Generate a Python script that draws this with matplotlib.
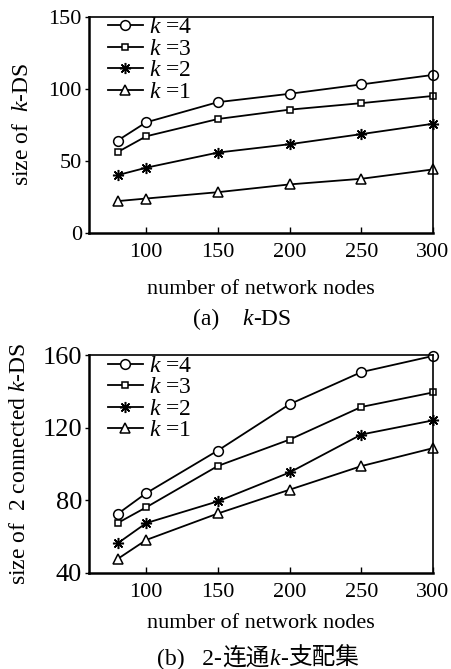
import matplotlib
matplotlib.use("Agg")
import matplotlib.pyplot as plt

plt.rcParams['font.family'] = ['Liberation Serif', 'Noto Sans CJK SC']
plt.rcParams['mathtext.fontset'] = 'custom'
plt.rcParams['mathtext.it'] = 'Liberation Serif:italic'
plt.rcParams['mathtext.rm'] = 'Liberation Serif'

nodes = [80, 100, 150, 200, 250, 300]
labels = ['$k$ =4', '$k$ =3', '$k$ =2', '$k$ =1']
markers = ['o', 's', (8, 2, 0), '^']
marker_sizes = [7, 5, 8, 7.5]

# (a) k-DS
kds = [
    [64, 76.7, 90.7, 96.5, 103, 109.6],
    [56, 67, 79, 85.5, 90, 95],
    [40, 45.2, 55.7, 61.5, 68.5, 75.7],
    [22, 23.8, 28.2, 33.6, 37.5, 44],
]
# (b) 2 connected k-DS
ckds = [
    [72.5, 84, 107.5, 133, 150.7, 159.6],
    [67.5, 76.2, 99, 113.5, 131.5, 139.5],
    [56.3, 67.5, 79.5, 95.4, 116.3, 124.1],
    [47.7, 58.2, 72.8, 85.9, 98.9, 108.8],
]

fig = plt.figure(figsize=(4.51, 6.69), dpi=100)
ax1 = fig.add_axes([0.197, 0.652, 0.763, 0.323])
ax2 = fig.add_axes([0.197, 0.1435, 0.763, 0.3255])


def draw(ax, data, ylim, yticks, ylabel, ysize, xpad, ypad):
    for vals, lab, m, ms in zip(data, labels, markers, marker_sizes):
        ax.plot(nodes, vals, '-', color='black', lw=1.3, marker=m, ms=ms,
                mfc='white', mec='black', mew=1.1, label=lab, clip_on=False)
    ax.set_xlim(60, 300)
    ax.set_ylim(*ylim)
    ax.set_xticks([100, 150, 200, 250, 300])
    ax.set_yticks(yticks)
    ax.tick_params(axis='x', direction='in', length=4, width=1, labelsize=16, pad=7)
    ax.tick_params(axis='y', direction='out', length=3, width=1, labelsize=ysize, pad=2)
    for s in ['left', 'bottom']:
        ax.spines[s].set_linewidth(1.8)
    for s in ['top', 'right']:
        ax.spines[s].set_linewidth(1.2)
    ax.set_xlabel('number of network nodes', fontsize=16, labelpad=xpad)
    ax.set_ylabel(ylabel, fontsize=17, labelpad=ypad)
    ax.legend(loc='upper left', bbox_to_anchor=(0.055, 1.0), frameon=False,
              fontsize=17, handlelength=1.5, labelspacing=0.0,
              borderaxespad=0, handletextpad=0.25, borderpad=0)


draw(ax1, kds, (0, 150), [0, 50, 100, 150], 'size of  $k$-DS', 16, 13, 11)
draw(ax2, ckds, (40, 160), [40, 80, 120, 160], 'size of  2 connected $k$-DS', 19, 9, 9)


def caption(cx, cy, pieces):
    # lay the pieces side by side, centered on cx (pixels), baseline cy
    renderer = fig.canvas.get_renderer()
    texts = []
    for s, kw in pieces:
        opts = {'fontsize': 17}
        opts.update(kw)
        texts.append(fig.text(0, cy / 669, s, ha='left', va='baseline', **opts))
    widths = [t.get_window_extent(renderer).width for t in texts]
    x = cx - sum(widths) / 2
    for t, w in zip(texts, widths):
        t.set_x(x / 451)
        x += w


caption(242, 669 - 325, [('(a)    ', {}), ('k', {'style': 'italic'}), ('-DS', {})])
caption(258, 669 - 665, [('(b)   2-', {}),
                         ('连通', {'family': 'Noto Sans CJK SC', 'fontsize': 17}),
                         ('k', {'style': 'italic'}), ('-', {}),
                         ('支配集', {'family': 'Noto Sans CJK SC', 'fontsize': 17})])

fig.savefig('out.png', dpi=100)
